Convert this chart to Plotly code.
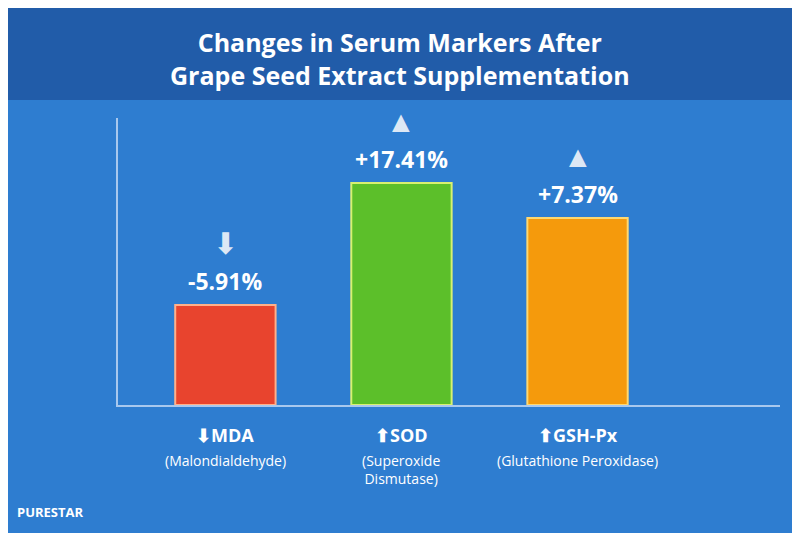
import plotly.graph_objects as go

markers = ["MDA", "SOD", "GSH-Px"]
full_names = ["(Malondialdehyde)", "(Superoxide<br>Dismutase)", "(Glutathione Peroxidase)"]
changes = ["-5.91%", "+17.41%", "+7.37%"]
directions = ["down", "up", "up"]
# bar heights as drawn in the picture (not to scale with the % change)
bar_heights = [100, 222, 187]
colors = ["#e8442e", "#5cbf2a", "#f59a0c"]
edge_colors = ["#ffb08a", "#d8f070", "#ffd870"]

x = list(range(len(markers)))

fig = go.Figure()
fig.add_trace(go.Bar(
    x=x, y=bar_heights, width=0.57,
    marker=dict(color=colors, line=dict(color=edge_colors, width=2)),
    hoverinfo="skip",
))

for i, (h, c, d) in enumerate(zip(bar_heights, changes, directions)):
    fig.add_annotation(x=i, y=h, yshift=6, text=f"<b>{c}</b>", showarrow=False,
                       yanchor="bottom", font=dict(size=23, color="white", family="Open Sans"))
    sym = "⬇" if d == "down" else "▲"
    fig.add_annotation(x=i, y=h, yshift=40, text=sym, showarrow=False,
                       yanchor="bottom", font=dict(size=30, color="#dde8f5"))
    arrow = "⬇" if d == "down" else "⬆"
    fig.add_annotation(x=i, y=0, yshift=-16, text=f"<b>{arrow}{markers[i]}</b>", showarrow=False,
                       yanchor="top", font=dict(size=18, color="white", family="Open Sans"))
    fig.add_annotation(x=i, y=0, yshift=-44, text=full_names[i], showarrow=False,
                       yanchor="top", font=dict(size=14, color="white", family="Open Sans"))

# title band
fig.add_shape(type="rect", xref="paper", yref="paper", x0=-0.2, x1=1.1, y0=1.063, y1=1.45,
              fillcolor="rgba(20,60,130,0.5)", line=dict(width=0), layer="below")
fig.add_annotation(xref="paper", yref="paper", x=0.426, y=1.33,
                   text="<b>Changes in Serum Markers After<br>Grape Seed Extract Supplementation</b>",
                   showarrow=False, font=dict(size=25, color="white", family="Open Sans"))
fig.add_annotation(xref="paper", yref="paper", x=-0.155, y=-0.41, xanchor="left",
                   text="<b>PURESTAR</b>", showarrow=False,
                   font=dict(size=13, color="white", family="Open Sans"))

fig.update_layout(
    width=800, height=533,
    margin=dict(l=110, r=28, t=110, b=136),
    paper_bgcolor="#2e7dd0", plot_bgcolor="rgba(0,0,0,0)",
    showlegend=False,
    xaxis=dict(range=[-0.61, 3.15], showticklabels=False, showgrid=False, zeroline=False,
               showline=True, linecolor="#a8c8ee", linewidth=2),
    yaxis=dict(range=[0, 287], showticklabels=False, showgrid=False, zeroline=False,
               showline=True, linecolor="#a8c8ee", linewidth=2),
)

fig.write_html("out.html")
